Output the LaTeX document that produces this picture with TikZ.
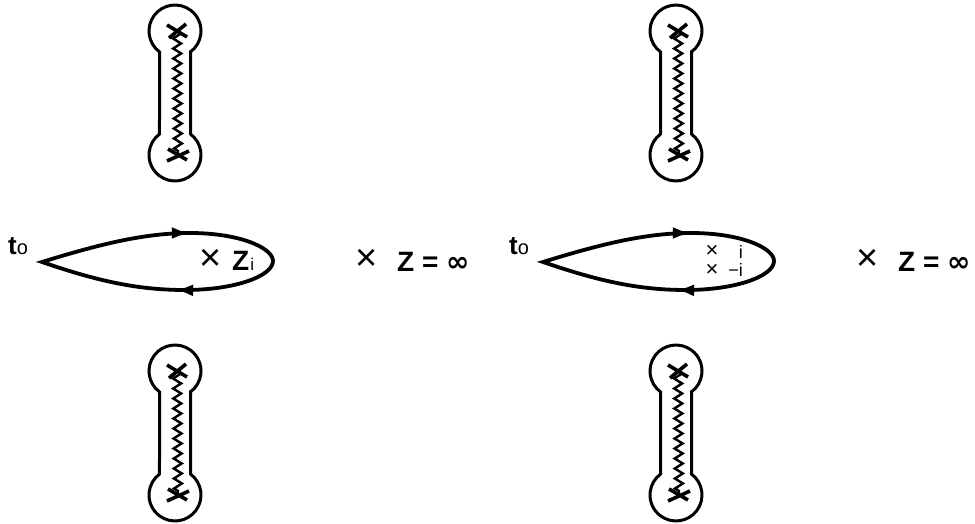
\documentclass[tikz,border=0pt]{standalone}
\usepackage{fontspec}
\setmainfont{Liberation Sans}
\newfontfamily\symfont{DejaVu Sans}
\usetikzlibrary{arrows.meta, decorations.pathmorphing, decorations.markings}

\tikzset{
    contour/.style={line width=3.8pt, postaction={decorate},
        decoration={markings,
            mark=at position 0.31 with {\arrow{Latex[length=18pt,width=12pt]}},
            mark=at position 0.72 with {\arrow{Latex[length=18pt,width=12pt]}}}},
    rim/.style={line width=3pt},
    cut/.style={line width=2.4pt, decorate,
        decoration={zigzag, segment length=10pt, amplitude=4pt}},
    branch/.style={line width=3.6pt},
    pole/.style={inner sep=0pt, font=\fontsize{38}{38}\selectfont},
    tag/.style={inner sep=0pt, anchor=base west},
}

\begin{document}
\begin{tikzpicture}[x=1pt, y=1pt]
    \useasboundingbox (0,0) rectangle (975,-524);
    % closed cuts with their branch points
    \foreach \cx/\cy in {175/31, 175/371, 676/31, 676/371} {
        \draw[rim] (\cx+15.5,-\cy-20.9) -- (\cx+15.5,-\cy-103.1)
            arc[start angle=53.4, end angle=-233.4, radius=26]
            -- (\cx-15.5,-\cy-20.9)
            arc[start angle=233.4, end angle=-53.4, radius=26] -- cycle;
        \draw[cut] (\cx+2,-\cy) -- (\cx+3,-\cy-124);
        \draw[branch] (\cx-8,-\cy+6) -- (\cx+12,-\cy-6)
            (\cx-6,-\cy-7) -- (\cx+11,-\cy+7);
        \draw[branch] (\cx-7,-\cy-118) -- (\cx+12,-\cy-129)
            (\cx-8,-\cy-130) -- (\cx+14,-\cy-120);
    }
    % the loop from t0 and the point at infinity
    \foreach \dx/\k in {0/a, 501/b} {
        \draw[contour] (\dx+42,-262)
            .. controls (\dx+100,-244) and (\dx+145,-233) .. (\dx+190,-233)
            .. controls (\dx+240,-233) and (\dx+273,-248) .. (\dx+273,-261)
            .. controls (\dx+273,-276) and (\dx+235,-290) .. (\dx+185,-290)
            .. controls (\dx+140,-290) and (\dx+100,-282) .. cycle;
        \node[tag] (t0\k) at (\dx+8,-254)
            {\fontsize{26}{26}\selectfont\bfseries t\mdseries\fontsize{20}{20}\selectfont o};
        \node[pole] (inf\k) at (\dx+367,-260) {×};
        \node[tag, font=\fontsize{28}{28}\selectfont\bfseries] (zinf\k) at (\dx+397,-271)
            {Z = {\symfont ∞}};
    }
    \node[pole] (zi) at (211,-260) {×};
    \node[tag] (zilab) at (232,-270)
        {\fontsize{28}{28}\selectfont\bfseries Z\mdseries\fontsize{17}{17}\selectfont\kern1pt i};
    \node[pole, font=\fontsize{22}{22}\selectfont] (pi) at (712,-251) {×};
    \node[pole, font=\fontsize{22}{22}\selectfont] (mi) at (712,-270) {×};
    \node[inner sep=0pt, anchor=base east, font=\fontsize{18}{18}\selectfont] (pilab) at (743,-258) {i};
    \node[inner sep=0pt, anchor=base east, font=\fontsize{18}{18}\selectfont] (milab) at (743,-276) {−i};
\end{tikzpicture}
\end{document}
